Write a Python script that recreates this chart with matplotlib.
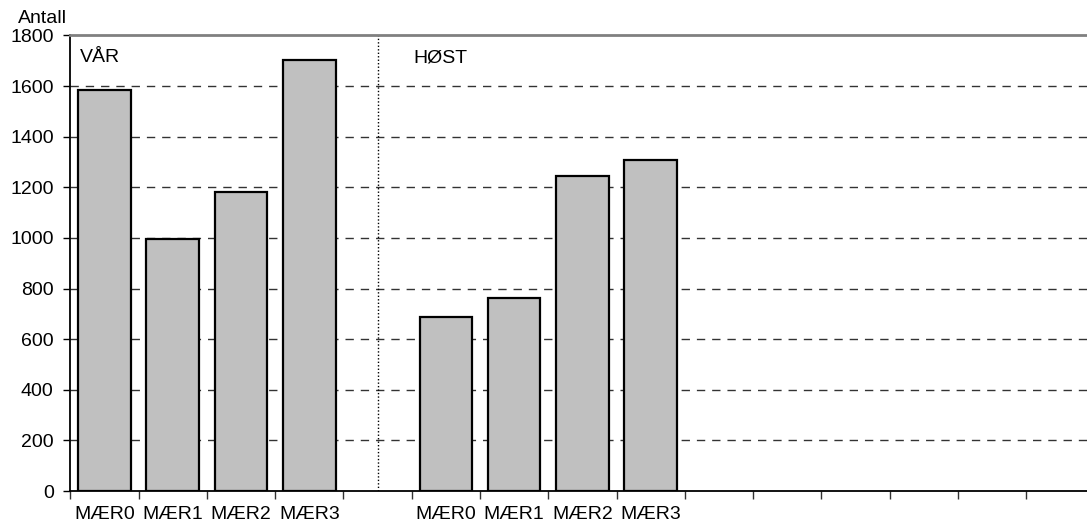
import matplotlib
matplotlib.use("Agg")
import matplotlib.pyplot as plt
from matplotlib.ticker import FixedLocator, NullFormatter

plt.rcParams["font.family"] = ["Liberation Sans", "DejaVu Sans"]

# Counts per cage, spring and autumn sampling
cages = ["MÆR0", "MÆR1", "MÆR2", "MÆR3"]
var_counts = [1586, 995, 1183, 1705]
host_counts = [689, 761, 1243, 1309]
season_labels = ["VÅR", "HØST"]
y_ticks = [0, 200, 400, 600, 800, 1000, 1200, 1400, 1600, 1800]

n_slots = 15
var_pos = list(range(0, 4))
host_pos = list(range(5, 9))
divider_pos = 4

FS = 14

W, H = 1087, 527
fig = plt.figure(figsize=(W / 100, H / 100), dpi=100)
left, right = 70.3, 1094.5
top, bottom = 35.5, 491.0
ax = fig.add_axes([left / W, 1 - bottom / H, (right - left) / W, (bottom - top) / H])

bar_kw = dict(width=0.77, color="#C0C0C0", edgecolor="black", linewidth=1.6, zorder=3)
ax.bar(var_pos, var_counts, **bar_kw)
ax.bar(host_pos, host_counts, **bar_kw)

ax.set_xlim(-0.5, n_slots - 0.5)
ax.set_ylim(0, 1800)

# Dotted divider between seasons
ax.axvline(divider_pos, color="black", linewidth=1.0, linestyle=(0, (1, 1.5)), zorder=2)

# Horizontal dashed grid
for v in y_ticks[1:-1]:
    ax.axhline(v, color="#333333", linewidth=1.0, linestyle=(0, (6, 5)), zorder=1)

ax.set_yticks(y_ticks)
ax.tick_params(axis="y", length=5, width=1, pad=7, labelsize=FS, color="black")

# Category labels at slot centres, tick marks at slot boundaries
ax.xaxis.set_major_locator(FixedLocator(var_pos + host_pos))
ax.set_xticklabels(cages + cages)
ax.xaxis.set_minor_locator(FixedLocator([i - 0.5 for i in range(n_slots + 1)]))
ax.xaxis.set_minor_formatter(NullFormatter())
ax.tick_params(axis="x", which="major", length=0, pad=11, labelsize=FS)
ax.tick_params(axis="x", which="minor", length=6, width=1, color="#333333")

for s in ("left", "bottom"):
    ax.spines[s].set_color("black")
    ax.spines[s].set_linewidth(1.3)
ax.spines["top"].set_color("#808080")
ax.spines["top"].set_linewidth(2.0)
ax.spines["right"].set_visible(False)

ax.text(-0.358, 1695, season_labels[0], fontsize=FS, va="baseline", ha="left")
ax.text(4.52, 1695, season_labels[1], fontsize=FS, va="baseline", ha="left")

fig.text(18 / W, 1 - 23 / H, "Antall", fontsize=FS, va="baseline", ha="left")

fig.savefig("out.png", dpi=100)
